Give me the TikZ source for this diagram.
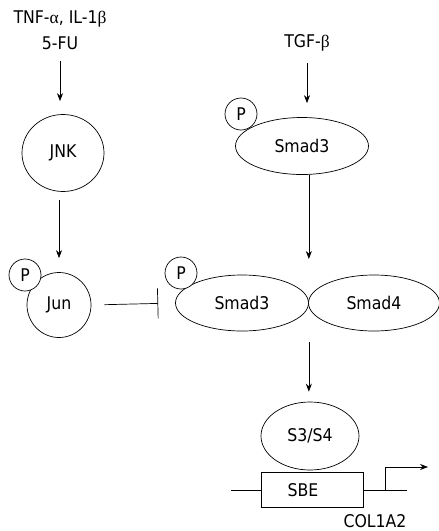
\documentclass[tikz,border=0pt]{standalone}
\usepackage{fontspec}
\setmainfont{DejaVu Sans Condensed}
\newfontfamily\greekfont{Liberation Serif}
\usetikzlibrary{shapes.geometric,arrows.meta}

\begin{document}
\begin{tikzpicture}[x=1pt,y=-1pt,font=\fontsize{17.5}{20}\selectfont,
    protein/.style ={ellipse, draw, inner sep=0pt},
    phospho/.style ={circle, draw, fill=white, inner sep=0pt, minimum size=32pt},
    act/.style ={-{Stealth[length=8pt,width=6pt]}},
    every path/.style={line width=0.7pt}]
   \useasboundingbox (0,0) rectangle (439,531);
   % stimuli
   \node (tnf)  at (60,19)  {TNF-{\greekfont α}, IL-1{\greekfont β}};
   \node (fu)   at (60,43)  {5-FU};
   \node (tgf)  at (307,43) {TGF-{\greekfont β}};
   % JNK branch
   \node[protein, minimum width=82pt, minimum height=77pt] (jnk) at (63,153) {JNK};
   \node[protein, minimum width=64pt, minimum height=65pt] (jun) at (59,305) {Jun};
   \node[phospho] (pjun) at (25,275) {P};
   % Smad branch
   \node[protein, minimum width=133pt, minimum height=57pt] (smadtop) at (302,146) {Smad3};
   \node[phospho] (ptop) at (241,114) {P};
   \node[protein, minimum width=133pt, minimum height=56pt] (smadthree) at (242,303) {Smad3};
   \node[protein, minimum width=131pt, minimum height=56pt] (smadfour) at (374,303) {Smad4};
   \node[phospho] (pmid) at (181,273) {P};
   % promoter
   \node[protein, minimum width=98pt, minimum height=68pt] (sfour) at (310,436) {S3/S4};
   \node[draw, minimum width=102pt, minimum height=35pt, inner sep=0pt] (sbe) at (312,490) {};
   \node (sbetext) at (303,490) {SBE};
   \node[inner sep=0pt] (col) at (375,521) {COL1A2};
   \coordinate (dnaleft) at (231,490);
   \coordinate (dnaright) at (407,490);
   \coordinate (tss) at (385,490);
   \coordinate (tssend) at (428,467);
   % arrows
   \draw[act, shorten <=8pt, shorten >=13pt] (fu.south) -- (fu.south |- jnk.north);
   \draw[act, shorten <=8pt, shorten >=14pt] (jnk.south -| jun.north) -- (jun.north);
   \draw[act, shorten <=8pt, shorten >=14pt] (tgf.south) -- (tgf.south |- smadtop.north);
   \draw[-{Bar[width=30pt]}, shorten <=13pt, shorten >=17pt] (jun.east) -- (smadthree.west);
   \draw[act, shorten >=44pt] (smadthree.east |- smadtop.south) -- (smadthree.east);
   \draw[act, shorten <=39pt, shorten >=10pt] (smadthree.east) -- (smadthree.east |- sfour.north);
   \draw (dnaleft) -- (sbe.west);
   \draw (sbe.east) -- (dnaright);
   \draw[act] (tss) |- (tssend);
\end{tikzpicture}
\end{document}
